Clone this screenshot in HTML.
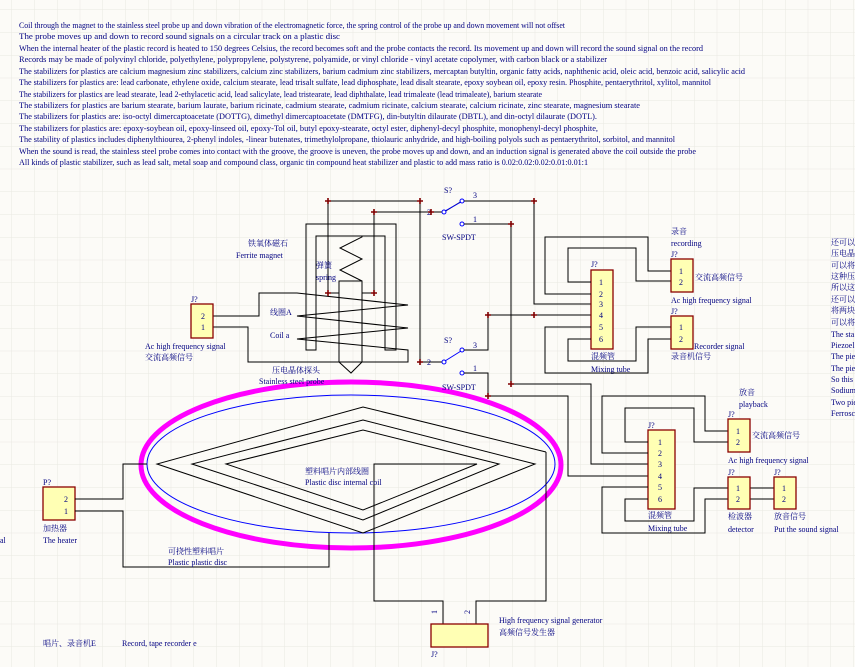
<!DOCTYPE html>
<html><head><meta charset="utf-8"><style>
html,body{margin:0;padding:0;background:#fcfbf7;}
svg{display:block;}
text{font-family:"Liberation Serif","Noto Serif CJK SC","Noto Sans CJK SC",serif;font-size:8px;fill:#000080;}
.w{fill:none;stroke:#000;stroke-width:1;}
.b{fill:#ffffb4;stroke:#8b0000;stroke-width:1.3;}
.p{fill:#000;}
</style></head><body>
<svg width="855" height="667" viewBox="0 0 855 667" xmlns="http://www.w3.org/2000/svg">
<defs>
<pattern id="g" x="11.5" y="9.5" width="22.75" height="22.75" patternUnits="userSpaceOnUse">
<path d="M0 0H22.75M0 0V22.75" stroke="#e9e8e2" stroke-width="1" fill="none"/>
</pattern>
<g id="j"><path d="M-3 0H3M0 -3V3" stroke="#800000" stroke-width="1.6"/></g>
</defs>
<rect width="855" height="667" fill="url(#g)"/>

<!-- top notes -->
<g>
<text x="19" y="28" textLength="546" lengthAdjust="spacingAndGlyphs">Coil through the magnet to the stainless steel probe up and down vibration of the electromagnetic force, the spring control of the probe up and down movement will not offset</text>
<text x="19" y="39" textLength="321" lengthAdjust="spacingAndGlyphs">The probe moves up and down to record sound signals on a circular track on a plastic disc</text>
<text x="19" y="51" textLength="684" lengthAdjust="spacingAndGlyphs">When the internal heater of the plastic record is heated to 150 degrees Celsius, the record becomes soft and the probe contacts the record. Its movement up and down will record the sound signal on the record</text>
<text x="19" y="62" textLength="588" lengthAdjust="spacingAndGlyphs">Records may be made of polyvinyl chloride, polyethylene, polypropylene, polystyrene, polyamide, or vinyl chloride - vinyl acetate copolymer, with carbon black or a stabilizer</text>
<text x="19" y="74" textLength="726" lengthAdjust="spacingAndGlyphs">The stabilizers for plastics are calcium magnesium zinc stabilizers, calcium zinc stabilizers, barium cadmium zinc stabilizers, mercaptan butyltin, organic fatty acids, naphthenic acid, oleic acid, benzoic acid, salicylic acid</text>
<text x="19" y="85" textLength="692" lengthAdjust="spacingAndGlyphs">The stabilizers for plastics are: lead carbonate, ethylene oxide, calcium stearate, lead trisalt sulfate, lead diphosphate, lead disalt stearate, epoxy soybean oil, epoxy resin. Phosphite, pentaerythritol, xylitol, mannitol</text>
<text x="19" y="97" textLength="523" lengthAdjust="spacingAndGlyphs">The stabilizers for plastics are lead stearate, lead 2-ethylacetic acid, lead salicylate, lead tristearate, lead diphthalate, lead trimaleate (lead trimaleate), barium stearate</text>
<text x="19" y="108" textLength="621" lengthAdjust="spacingAndGlyphs">The stabilizers for plastics are barium stearate, barium laurate, barium ricinate, cadmium stearate, cadmium ricinate, calcium stearate, calcium ricinate, zinc stearate, magnesium stearate</text>
<text x="19" y="119" textLength="578" lengthAdjust="spacingAndGlyphs">The stabilizers for plastics are: iso-octyl dimercaptoacetate (DOTTG), dimethyl dimercaptoacetate (DMTFG), din-butyltin dilaurate (DBTL), and din-octyl dilaurate (DOTL).</text>
<text x="19" y="131" textLength="579" lengthAdjust="spacingAndGlyphs">The stabilizers for plastics are: epoxy-soybean oil, epoxy-linseed oil, epoxy-Tol oil, butyl epoxy-stearate, octyl ester, diphenyl-decyl phosphite, monophenyl-decyl phosphite,</text>
<text x="19" y="142" textLength="656" lengthAdjust="spacingAndGlyphs">The stability of plastics includes diphenylthiourea, 2-phenyl indoles, -linear butenates, trimethylolpropane, thiolauric anhydride, and high-boiling polyols such as pentaerythritol, sorbitol, and mannitol</text>
<text x="19" y="154" textLength="677" lengthAdjust="spacingAndGlyphs">When the sound is read, the stainless steel probe comes into contact with the groove, the groove is uneven, the probe moves up and down, and an induction signal is generated above the coil outside the probe</text>
<text x="19" y="165" textLength="569" lengthAdjust="spacingAndGlyphs">All kinds of plastic stabilizer, such as lead salt, metal soap and compound class, organic tin compound heat stabilizer and plastic to add mass ratio is 0.02:0.02:0.02:0.01:0.01:1</text>
</g>

<!-- right side notes -->
<g>
<text x="831" y="245">还可以</text><text x="831" y="256">压电晶</text><text x="831" y="268">可以将</text><text x="831" y="279">这种压</text>
<text x="831" y="290">所以这</text><text x="831" y="302">还可以</text><text x="831" y="313">将两块</text><text x="831" y="325">可以将</text>
<text x="831" y="337">The sta</text><text x="831" y="348">Piezoel</text><text x="831" y="359">The pie</text><text x="831" y="371">The pie</text>
<text x="831" y="382">So this</text><text x="831" y="393">Sodium</text><text x="831" y="405">Two pie</text><text x="831" y="416">Ferrosc</text>
<text x="0" y="543">al</text>
</g>

<!-- ellipses -->
<ellipse cx="351" cy="465" rx="210" ry="83" fill="none" stroke="#ff00ff" stroke-width="5"/>
<ellipse cx="351" cy="464" rx="204" ry="69" fill="none" stroke="#0000ff" stroke-width="1"/>

<!-- spiral coil -->
<path class="w" d="M546 452 L363 407 L157 464 L363 533 L535 464 L363 420 L192 464 L363 520 L499 464 L363 430 L226 464 L363 510 L477 464 L374 464 L374 601 L443 601 L443 624"/>
<path class="w" d="M546 452 V601 H476 V624"/>

<!-- heater -->
<rect class="b" x="43" y="487" width="32" height="33"/>
<text x="43" y="485">P?</text><text x="64" y="502">2</text><text x="64" y="514">1</text>
<text x="43" y="531">加热器</text><text x="43" y="543">The heater</text>
<path class="w" d="M75 499 H123 V464 H147 M75 511 H123 V567 H329 V533"/>
<text x="168" y="554">可挠性塑料唱片</text><text x="168" y="565">Plastic plastic disc</text>
<text x="305" y="474">塑料唱片内部线圈</text><text x="305" y="485">Plastic disc internal coil</text>

<!-- HF generator -->
<rect class="b" x="431" y="624" width="57" height="23"/>
<text x="437" y="614" transform="rotate(-90 437 614)">1</text>
<text x="470" y="614" transform="rotate(-90 470 614)">2</text>
<text x="431" y="657">J?</text>
<text x="499" y="623">High frequency signal generator</text><text x="499" y="635">高频信号发生器</text>
<text x="43" y="646">唱片、录音机E</text><text x="122" y="646">Record, tape recorder e</text>

<!-- magnet -->
<path class="w" d="M306 350 V224 H396 V350 H385 V236 H316 V350 Z"/>
<!-- spring -->
<path class="w" d="M362 236 L362 237 L340 248 L362 259 L340 270 L362 281"/>
<!-- probe -->
<path class="w" d="M339 281 H362 V362 H339 Z M339 362 L351 373 L362 362"/>
<!-- coil -->
<path class="w" d="M213 316 H259 V293 H297 L408 305 L297 316 L408 328 L297 339 L408 350 V362 H248 V327 H213"/>
<path class="w" d="M328 201 V293 H339 M374 212 V293 H362"/>
<path class="w" d="M328 201 H420 V362 H444 M374 212 H444 L462 201 M420 201 H420"/>
<!-- left J -->
<rect class="b" x="191" y="304" width="22" height="34"/>
<text x="191" y="302">J?</text><text x="201" y="319">2</text><text x="201" y="330">1</text>
<text x="145" y="349">Ac high frequency signal</text><text x="145" y="360">交流高频信号</text>
<text x="248" y="246">铁氧体磁石</text><text x="236" y="258">Ferrite magnet</text>
<text x="316" y="268">弹簧</text><text x="316" y="280">spring</text>
<text x="270" y="315">线圈A</text><text x="270" y="338">Coil a</text>
<text x="272" y="373">压电晶体探头</text><text x="259" y="384">Stainless steel probe</text>

<!-- switches -->
<g fill="#fff" stroke="#0000ff" stroke-width="1">
<circle cx="444" cy="212" r="2"/><circle cx="462" cy="201" r="2"/><circle cx="462" cy="224" r="2"/>
<circle cx="444" cy="362" r="2"/><circle cx="462" cy="350" r="2"/><circle cx="462" cy="373" r="2"/>
</g>
<path d="M445 211 L461 202 M445 361 L461 351" stroke="#0000ff" stroke-width="1"/>
<text x="444" y="193">S?</text><text x="473" y="198">3</text><text x="473" y="222">1</text><text x="442" y="240">SW-SPDT</text>
<text x="444" y="343">S?</text><text x="473" y="348">3</text><text x="473" y="371">1</text><text x="442" y="390">SW-SPDT</text>
<text x="427" y="215">2</text><text x="427" y="365">2</text>

<path class="w" d="M464 201 H534 V304 H591 M464 224 H511 V384 H591 V464 H648 M464 350 H488 V315 H591 M464 373 H488 V396 H568 V476 H648"/>

<!-- upper mixing tube -->
<rect class="b" x="591" y="270" width="22" height="79"/>
<text x="591" y="267">J?</text>
<text x="599" y="285">1</text><text x="599" y="297">2</text><text x="599" y="307">3</text><text x="599" y="318">4</text><text x="599" y="330">5</text><text x="599" y="342">6</text>
<text x="591" y="359">混频管</text><text x="591" y="372">Mixing tube</text>
<path class="w" d="M591 282 H568 V248 H636 V281 H671 M591 294 H545 V237 H648 V271 H671 M591 327 H545 V373 H648 V339 H671 M591 339 H568 V361 H636 V327 H671"/>
<rect class="b" x="671" y="259" width="22" height="33"/>
<text x="679" y="274">1</text><text x="679" y="285">2</text>
<text x="671" y="234">录音</text><text x="671" y="246">recording</text><text x="671" y="257">J?</text>
<text x="695" y="280">交流高频信号</text><text x="671" y="303">Ac high frequency signal</text>
<rect class="b" x="671" y="316" width="22" height="33"/>
<text x="679" y="330">1</text><text x="679" y="342">2</text>
<text x="671" y="314">J?</text><text x="694" y="349">Recorder signal</text><text x="671" y="359">录音机信号</text>

<!-- lower mixing tube -->
<rect class="b" x="648" y="430" width="27" height="79"/>
<text x="648" y="428">J?</text>
<text x="658" y="445">1</text><text x="658" y="456">2</text><text x="658" y="467">3</text><text x="658" y="479">4</text><text x="658" y="490">5</text><text x="658" y="502">6</text>
<text x="648" y="518">混频管</text><text x="648" y="531">Mixing tube</text>
<path class="w" d="M648 442 H625 V408 H694 V442 H728 M648 453 H602 V396 H705 V431 H728 M648 487 H602 V533 H705 V499 H728 M648 499 H625 V521 H694 V488 H728 M750 488 H774 M750 499 H774"/>
<rect class="b" x="728" y="419" width="22" height="33"/>
<text x="736" y="434">1</text><text x="736" y="445">2</text>
<text x="739" y="395">放音</text><text x="739" y="407">playback</text><text x="728" y="417">J?</text>
<text x="752" y="438">交流高频信号</text><text x="728" y="463">Ac high frequency signal</text>
<rect class="b" x="728" y="477" width="22" height="32"/>
<text x="736" y="491">1</text><text x="736" y="502">2</text>
<text x="728" y="475">J?</text><text x="728" y="519">检波器</text><text x="728" y="532">detector</text>
<rect class="b" x="774" y="477" width="22" height="32"/>
<text x="782" y="491">1</text><text x="782" y="502">2</text>
<text x="774" y="475">J?</text><text x="774" y="519">放音信号</text><text x="774" y="532">Put the sound signal</text>

<!-- junctions -->
<use href="#j" x="328" y="201"/><use href="#j" x="420" y="201"/><use href="#j" x="374" y="212"/><use href="#j" x="431" y="212"/>
<use href="#j" x="328" y="293"/><use href="#j" x="374" y="293"/><use href="#j" x="420" y="362"/>
<use href="#j" x="534" y="201"/><use href="#j" x="511" y="224"/><use href="#j" x="488" y="315"/><use href="#j" x="534" y="315"/>
<use href="#j" x="511" y="384"/><use href="#j" x="488" y="396"/>
</svg>
</body></html>
